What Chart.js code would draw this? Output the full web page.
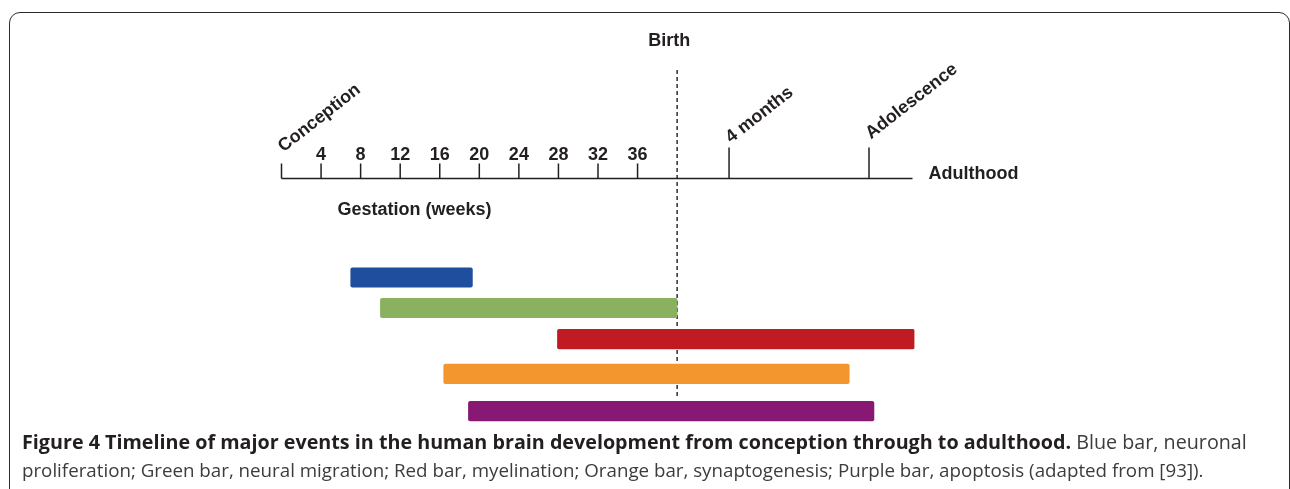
<!DOCTYPE html>
<html>
<head>
<meta charset="utf-8">
<script src="https://cdn.jsdelivr.net/npm/chart.js@4/dist/chart.umd.min.js"></script>
<style>
  html, body { margin:0; padding:0; background:#fff; }
  body { width:1290px; height:489px; position:relative; overflow:hidden; }
  #c { position:absolute; left:0; top:0; }
  .frame {
    position:absolute; left:8.5px; top:11.5px; width:1281px; height:540px;
    box-sizing:border-box; border:1.5px solid #2b2b2b; border-radius:11px;
  }
  .cap {
    position:absolute; left:22px; white-space:nowrap;
    font-family:'Open Sans', sans-serif; font-size:16.5px; line-height:20px; color:#3c3c3c;
  }
  .cap b { color:#231f20; font-weight:700; }
</style>
</head>
<body>
<canvas id="c" width="1290" height="489"></canvas>
<div class="frame"></div>
<div class="cap" id="cap1" data-right="1247" style="top:432px"><b>Figure 4 Timeline of major events in the human brain development from conception through to adulthood.</b> Blue bar, neuronal</div>
<div class="cap" id="cap2" data-right="1204" style="top:460px">proliferation; Green bar, neural migration; Red bar, myelination; Orange bar, synaptogenesis; Purple bar, apoptosis (adapted from [93]).</div>
<script>
// ── timeline (positions on the drawn time axis, gestation in weeks) ──
var weekTicks       = [4, 8, 12, 16, 20, 24, 28, 32, 36];
var milestoneLabels = ['Conception', '4 months', 'Adolescence'];
var milestonePos    = [0, 45.25, 59.4];
var birthPos        = 40;
var axisEnd         = 63.8;

// ── bars ──
var barLabels = ['Neuronal proliferation', 'Neural migration', 'Myelination', 'Synaptogenesis', 'Apoptosis'];
var barStart  = [7.0, 10.0, 27.9, 16.4, 18.9];
var barEnd    = [19.3, 40.0, 64.0, 57.4, 59.9];
var barRow    = [0, 1, 2.02, 3.16, 4.38];
var barColors = ['#1f4e9f', '#89b15f', '#c01b22', '#f4962e', '#871874'];

var INK  = '#231f20';
var FONT = 'bold 18px "Liberation Sans", Arial, sans-serif';
var AXIS_Y = 178.5;
var LABEL_LIFT = [11, 4, 8];   // gap between tick top and rotated label
var BAR_H = 19.5;

var timelinePlugin = {
  id: 'timeline',
  beforeDatasetsDraw: function (chart) {
    var ctx = chart.ctx, xs = chart.scales.x, ys = chart.scales.y;
    var bx = xs.getPixelForValue(birthPos);
    var yEnd = ys.getPixelForValue(barRow[barRow.length - 1]) - BAR_H / 2 - 2.5;
    ctx.save();
    ctx.strokeStyle = INK;
    ctx.lineWidth = 1.4;
    ctx.setLineDash([4, 3]);
    ctx.beginPath();
    ctx.moveTo(bx, 70);
    ctx.lineTo(bx, yEnd);
    ctx.stroke();
    ctx.restore();
  },
  afterDraw: function (chart) {
    var ctx = chart.ctx, xs = chart.scales.x;
    ctx.save();
    ctx.strokeStyle = INK;
    ctx.fillStyle = INK;
    ctx.lineWidth = 1.5;
    ctx.font = FONT;

    // axis line
    ctx.beginPath();
    ctx.moveTo(xs.getPixelForValue(0), AXIS_Y);
    ctx.lineTo(xs.getPixelForValue(axisEnd), AXIS_Y);
    ctx.stroke();

    // week ticks + numbers
    ctx.textAlign = 'center';
    ctx.textBaseline = 'alphabetic';
    weekTicks.forEach(function (w) {
      var x = xs.getPixelForValue(w);
      ctx.beginPath();
      ctx.moveTo(x, AXIS_Y);
      ctx.lineTo(x, AXIS_Y - 15);
      ctx.stroke();
      ctx.fillText(String(w), x, AXIS_Y - 19);
    });

    // milestones with rotated labels
    ctx.textAlign = 'left';
    milestonePos.forEach(function (p, i) {
      var x = xs.getPixelForValue(p);
      var len = i === 0 ? 15 : 31;
      ctx.beginPath();
      ctx.moveTo(x, AXIS_Y);
      ctx.lineTo(x, AXIS_Y - len);
      ctx.stroke();
      ctx.save();
      ctx.translate(x + 2, AXIS_Y - len - LABEL_LIFT[i]);
      ctx.rotate(-38 * Math.PI / 180);
      ctx.fillText(milestoneLabels[i], 0, 0);
      ctx.restore();
    });

    // fixed labels
    ctx.textAlign = 'center';
    ctx.fillText('Birth', xs.getPixelForValue(birthPos) - 8, 46);
    ctx.textAlign = 'left';
    ctx.fillText('Adulthood', xs.getPixelForValue(axisEnd) + 16, AXIS_Y);
    ctx.fillText('Gestation (weeks)', xs.getPixelForValue(0) + 56, 215);
    ctx.restore();
  }
};

new Chart(document.getElementById('c').getContext('2d'), {
  type: 'bar',
  data: {
    datasets: [{
      label: 'Brain development',
      data: barRow.map(function (r, i) { return { x: [barStart[i], barEnd[i]], y: r, name: barLabels[i] }; }),
      backgroundColor: barColors,
      barThickness: BAR_H,
      borderRadius: 2,
      borderSkipped: false
    }]
  },
  options: {
    indexAxis: 'y',
    responsive: false,
    animation: false,
    layout: { padding: { left: 281.5, right: 375.5, top: 247, bottom: 28.5 } },
    scales: {
      x: { type: 'linear', min: 0, max: 64, display: false, offset: false },
      y: { type: 'linear', min: -1, max: 6, reverse: true, display: false, offset: false }
    },
    plugins: { legend: { display: false }, tooltip: { enabled: false } }
  },
  plugins: [timelinePlugin]
});

// fit caption lines to the widths they take in the figure
['cap1', 'cap2'].forEach(function (id) {
  var el = document.getElementById(id);
  var target = parseFloat(el.dataset.right) - 22;
  var fs = parseFloat(getComputedStyle(el).fontSize);
  el.style.fontSize = (fs * target / el.getBoundingClientRect().width) + 'px';
});
</script>
</body>
</html>
